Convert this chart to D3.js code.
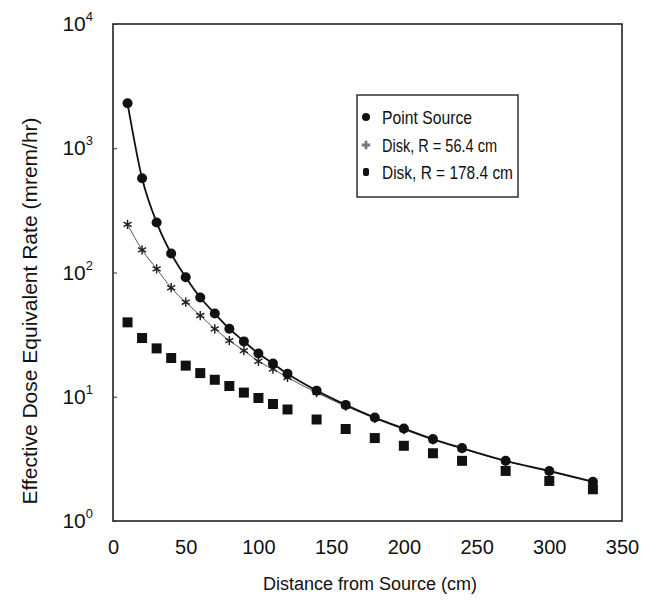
<!DOCTYPE html>
<html>
<head>
<meta charset="utf-8">
<script src="https://cdn.jsdelivr.net/npm/d3@7"></script>
<style>
  body { margin: 0; background: #fff; }
  text { font-family: "Liberation Sans", Arial, sans-serif; fill: #111; }
</style>
</head>
<body>
<div id="chart"></div>
<script>
// Chart size, same as the window.
var width = 658, height = 602;
var margin = { top: 24, right: 36, bottom: 81, left: 113 };

// Distances (cm) and dose rates (mrem/hr).
var distances = [10, 20, 30, 40, 50, 60, 70, 80, 90, 100, 110, 120, 140, 160, 180, 200, 220, 240, 270, 300, 330];
var pointSource = [2300, 573, 253, 142, 91.6, 62.9, 46.7, 35.3, 27.9, 22.3, 18.5, 15.3, 11.2, 8.6, 6.8, 5.55, 4.56, 3.86, 3.05, 2.53, 2.07];
var disk56 = [244, 152, 107, 75.4, 57.7, 45, 35.2, 28.3, 23.5, 19.3, 16.7, 14.3, 10.8, 8.4, 6.7, 5.45, 4.5, 3.82, 3.02, 2.5, 2.05];
var disk178 = [39.7, 29.7, 24.5, 20.5, 17.8, 15.5, 13.7, 12.2, 10.8, 9.77, 8.74, 7.9, 6.56, 5.5, 4.65, 4.03, 3.51, 3.05, 2.53, 2.1, 1.8];

var xTicks = [0, 50, 100, 150, 200, 250, 300, 350];
var yExponents = [0, 1, 2, 3, 4];
var legendLabels = ["Point Source", "Disk, R = 56.4 cm", "Disk, R = 178.4 cm"];

var svg = d3.select("#chart").append("svg")
    .attr("width", width)
    .attr("height", height);

var x = d3.scaleLinear().domain([0, 350]).range([margin.left, width - margin.right]);
var y = d3.scaleLog().domain([1, 10000]).range([height - margin.bottom, margin.top]);

// Plot frame.
svg.append("rect")
    .attr("x", x(0))
    .attr("y", y(10000))
    .attr("width", x(350) - x(0))
    .attr("height", y(1) - y(10000))
    .attr("fill", "none")
    .attr("stroke", "#222")
    .attr("stroke-width", 1.6);

// Left axis: inward ticks at each decade, labels drawn as 10^n.
var yAxis = d3.axisLeft(y)
    .tickValues(yExponents.map(function(e) { return Math.pow(10, e); }))
    .tickSizeInner(-4)
    .tickSizeOuter(0)
    .tickFormat("");
svg.append("g")
    .attr("transform", "translate(" + x(0) + ",0)")
    .call(yAxis)
    .call(function(g) { g.select(".domain").remove(); })
    .selectAll("line").attr("stroke", "#333");

var yLab = svg.append("g").selectAll("text")
    .data(yExponents)
    .enter().append("text")
    .attr("x", 93)
    .attr("y", function(e) { return y(Math.pow(10, e)) + 7; })
    .attr("text-anchor", "end")
    .style("font-size", "21px");
yLab.append("tspan").text("10");
yLab.append("tspan")
    .attr("dy", -10)
    .style("font-size", "13px")
    .text(function(e) { return e; });

// Bottom axis labels only (no visible ticks in the original).
var xAxis = d3.axisBottom(x).tickValues(xTicks).tickSize(0).tickPadding(19);
svg.append("g")
    .attr("transform", "translate(0," + y(1) + ")")
    .call(xAxis)
    .call(function(g) {
      g.select(".domain").remove();
      g.selectAll("text")
        .style("font-size", "20px")
        .style("font-family", "'Liberation Sans', Arial, sans-serif")
        .attr("fill", "#111");
    });

// Axis titles.
svg.append("text")
    .attr("x", 370)
    .attr("y", 590)
    .attr("text-anchor", "middle")
    .style("font-size", "18px")
    .text("Distance from Source (cm)");

svg.append("text")
    .attr("transform", "translate(37," + 311 + ") rotate(-90)")
    .attr("text-anchor", "middle")
    .style("font-size", "21px")
    .text("Effective Dose Equivalent Rate (mrem/hr)");

var line = d3.line()
    .x(function(d) { return x(d[0]); })
    .y(function(d) { return y(d[1]); })
    .curve(d3.curveMonotoneX);

var psData = d3.zip(distances, pointSource);
var d56Data = d3.zip(distances, disk56);
var d178Data = d3.zip(distances, disk178);

// Disk R = 56.4 cm: thin line with asterisk markers.
svg.append("path")
    .datum(d56Data)
    .attr("d", line)
    .attr("fill", "none")
    .attr("stroke", "#555")
    .attr("stroke-width", 1);

svg.append("g").selectAll("path")
    .data(d56Data)
    .enter().append("path")
    .attr("transform", function(d) { return "translate(" + x(d[0]) + "," + y(d[1]) + ")"; })
    .attr("d", d3.symbol().type(d3.symbolAsterisk).size(60))
    .attr("fill", "none")
    .attr("stroke", "#222")
    .attr("stroke-width", 1.5);

// Point source: solid line with filled circles.
svg.append("path")
    .datum(psData)
    .attr("d", line)
    .attr("fill", "none")
    .attr("stroke", "#111")
    .attr("stroke-width", 1.8);

svg.append("g").selectAll("circle")
    .data(psData)
    .enter().append("circle")
    .attr("cx", function(d) { return x(d[0]); })
    .attr("cy", function(d) { return y(d[1]); })
    .attr("r", 5)
    .attr("fill", "#111");

// Disk R = 178.4 cm: squares only.
svg.append("g").selectAll("rect")
    .data(d178Data)
    .enter().append("rect")
    .attr("x", function(d) { return x(d[0]) - 5; })
    .attr("y", function(d) { return y(d[1]) - 5; })
    .attr("width", 10)
    .attr("height", 10)
    .attr("fill", "#111");

// Legend box.
var legend = svg.append("g").attr("transform", "translate(357,95)");
legend.append("rect")
    .attr("width", 161)
    .attr("height", 102)
    .attr("fill", "#fff")
    .attr("stroke", "#222")
    .attr("stroke-width", 1.4);

var rowY = [22, 50, 77];
var textW = [90, 115, 131];
var rows = legend.selectAll("g.row")
    .data(legendLabels)
    .enter().append("g")
    .attr("class", "row")
    .attr("transform", function(d, i) { return "translate(0," + rowY[i] + ")"; });

rows.append("text")
    .attr("x", 25)
    .attr("y", 7)
    .attr("textLength", function(d, i) { return textW[i]; })
    .attr("lengthAdjust", "spacingAndGlyphs")
    .style("font-size", "19px")
    .text(function(d) { return d; });

legend.append("circle")
    .attr("cx", 9).attr("cy", rowY[0])
    .attr("r", 4).attr("fill", "#111");
legend.append("path")
    .attr("transform", "translate(9," + rowY[1] + ")")
    .attr("d", d3.symbol().type(d3.symbolCross).size(40))
    .attr("fill", "#777");
legend.append("rect")
    .attr("x", 6).attr("y", rowY[2] - 4)
    .attr("width", 6).attr("height", 8)
    .attr("rx", 2)
    .attr("fill", "#111");
</script>
</body>
</html>
